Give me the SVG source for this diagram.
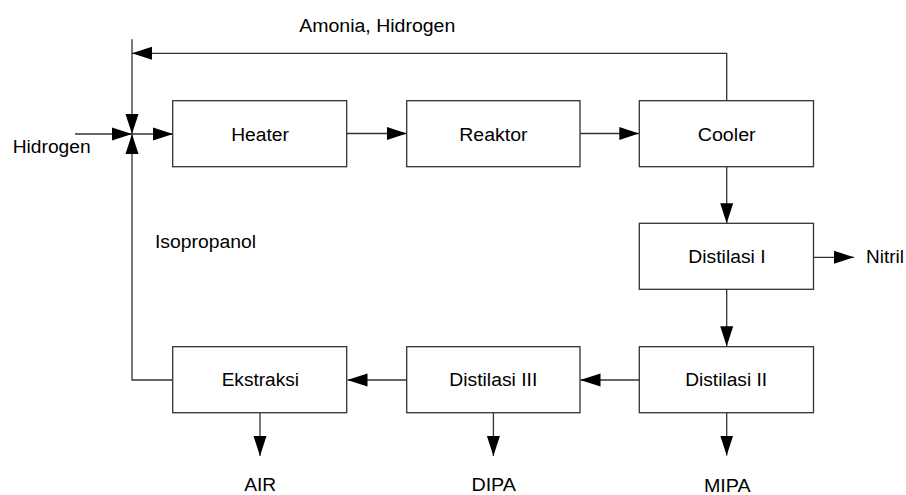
<svg xmlns="http://www.w3.org/2000/svg" width="906" height="495" viewBox="0 0 906 495">
<style>
.box{fill:#fff;stroke:#333;stroke-width:1.3}
.ln{fill:none;stroke:#333;stroke-width:1.3}
text{font-family:"Liberation Sans",Arial,sans-serif;font-size:18px;fill:#000}
.c{text-anchor:middle}
</style>
<defs>
<marker id="ah" markerUnits="userSpaceOnUse" markerWidth="20" markerHeight="14" refX="20" refY="7" orient="auto">
<path d="M0,0.5 L20,7 L0,13.5 z" fill="#000"/>
</marker>
</defs>
<rect width="906" height="495" fill="#fff"/>
<g id="connectors">
<path class="ln" d="M726.7,100.7 V53.3 H132" marker-end="url(#ah)"/>
<path class="ln" d="M132,39.3 V134" marker-end="url(#ah)"/>
<path class="ln" d="M75,134 H132" marker-end="url(#ah)"/>
<path class="ln" d="M173,380 H132 V134" marker-end="url(#ah)"/>
<path class="ln" d="M132,134 H173" marker-end="url(#ah)"/>
<path class="ln" d="M346.7,133.5 H406.7" marker-end="url(#ah)"/>
<path class="ln" d="M580,133.5 H639.3" marker-end="url(#ah)"/>
<path class="ln" d="M726.7,166.7 V223.3" marker-end="url(#ah)"/>
<path class="ln" d="M813.5,257.3 H854" marker-end="url(#ah)"/>
<path class="ln" d="M726.7,289.3 V346.3" marker-end="url(#ah)"/>
<path class="ln" d="M639.3,380 H580.5" marker-end="url(#ah)"/>
<path class="ln" d="M406.7,380 H347.5" marker-end="url(#ah)"/>
<path class="ln" d="M260,412.5 V456" marker-end="url(#ah)"/>
<path class="ln" d="M493.4,412.5 V456" marker-end="url(#ah)"/>
<path class="ln" d="M726.7,412.5 V455.5" marker-end="url(#ah)"/>
</g>
<g id="heater"><rect class="box" x="172.7" y="100.7" width="174" height="66"/><text class="c" x="260" y="140.5" textLength="57.7" lengthAdjust="spacingAndGlyphs">Heater</text></g>
<g id="reaktor"><rect class="box" x="406.7" y="100.7" width="173.3" height="66"/><text class="c" x="493.4" y="140.5" textLength="68.3" lengthAdjust="spacingAndGlyphs">Reaktor</text></g>
<g id="cooler"><rect class="box" x="639.3" y="100.7" width="174.2" height="66"/><text class="c" x="726.7" y="140.5" textLength="58" lengthAdjust="spacingAndGlyphs">Cooler</text></g>
<g id="distilasi1"><rect class="box" x="639.3" y="223.3" width="174.2" height="66"/><text class="c" x="727" y="263.3" textLength="77.3" lengthAdjust="spacingAndGlyphs">Distilasi I</text></g>
<g id="distilasi2"><rect class="box" x="639.3" y="346.7" width="174.2" height="66"/><text class="c" x="726.2" y="385.5" textLength="82" lengthAdjust="spacingAndGlyphs">Distilasi II</text></g>
<g id="distilasi3"><rect class="box" x="406.7" y="346.7" width="173.3" height="66"/><text class="c" x="493.3" y="385.5" textLength="88" lengthAdjust="spacingAndGlyphs">Distilasi III</text></g>
<g id="ekstraksi"><rect class="box" x="172.7" y="346.7" width="174" height="66"/><text class="c" x="260.3" y="385.5" textLength="77.3" lengthAdjust="spacingAndGlyphs">Ekstraksi</text></g>
<g id="labels">
<text x="299.3" y="32" textLength="156" lengthAdjust="spacingAndGlyphs">Amonia, Hidrogen</text>
<text x="12.7" y="153.3" textLength="78" lengthAdjust="spacingAndGlyphs">Hidrogen</text>
<text x="155" y="248" textLength="101" lengthAdjust="spacingAndGlyphs">Isopropanol</text>
<text x="866" y="263.3" textLength="38" lengthAdjust="spacingAndGlyphs">Nitril</text>
<text class="c" x="260.2" y="491" textLength="32" lengthAdjust="spacingAndGlyphs">AIR</text>
<text class="c" x="493.7" y="491" textLength="44.6" lengthAdjust="spacingAndGlyphs">DIPA</text>
<text class="c" x="727.3" y="492" textLength="46.7" lengthAdjust="spacingAndGlyphs">MIPA</text>
</g>
</svg>
